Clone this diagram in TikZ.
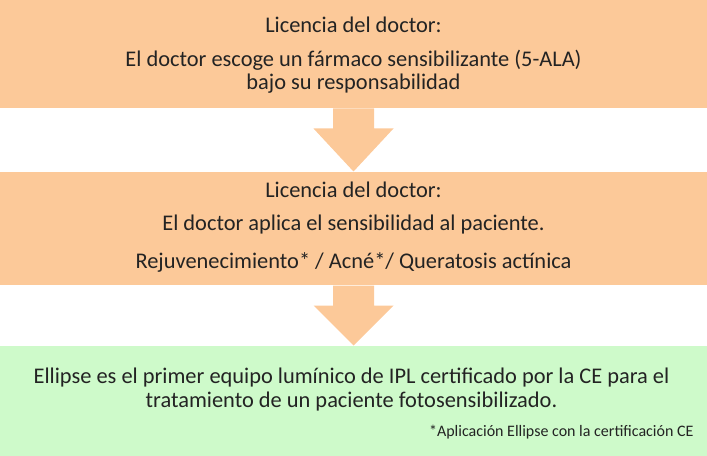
\documentclass[tikz,border=0pt]{standalone}
\usepackage{fontspec}
\setmainfont{Carlito}
\usetikzlibrary{calc}

\definecolor{peach}{RGB}{252,201,153}
\definecolor{mint}{RGB}{206,250,202}
\definecolor{ink}{RGB}{35,35,35}

\tikzset{every picture/.style={line width=0.75pt}}
\tikzset{
  stepbox/.style={fill=#1, draw=none, inner sep=0pt, minimum width=530.25pt},
  boxtext/.style={text=ink, inner sep=0.75pt, align=center, font=\fontsize{16.8}{17.5}\selectfont},
  smalltext/.style={text=ink, inner sep=0.75pt, font=\fontsize{12}{14}\selectfont}
}

\begin{document}
\begin{tikzpicture}[x=0.75pt,y=0.75pt,yscale=-1,xscale=1]
\useasboundingbox (0,0) rectangle (707,456);

% Boxes
\node [stepbox=peach, minimum height=81pt] (box1) at (353.5,54) {};
\node [stepbox=peach, minimum height=84.75pt] (box2) at (353.5,228.5) {};
\node [stepbox=mint, minimum height=82.5pt] (box3) at (353.5,401) {};

% Arrow 1
\fill [peach] ($(box1.south)+(-20.5,0)$) -- ($(box2.north)+(-20.5,-43)$) -- ($(box2.north)+(-40,-43)$) -- (box2.north) -- ($(box2.north)+(40,-43)$) -- ($(box2.north)+(20.5,-43)$) -- ($(box1.south)+(20.5,0)$) -- cycle ;
% Arrow 2
\fill [peach] ($(box2.south)+(-20.5,0)$) -- ($(box3.north)+(-20.5,-40)$) -- ($(box3.north)+(-40,-40)$) -- (box3.north) -- ($(box3.north)+(40,-40)$) -- ($(box3.north)+(20.5,-40)$) -- ($(box2.south)+(20.5,0)$) -- cycle ;

% Text Node
\node [boxtext] (lic1) at (353.5,25) {Licencia del doctor:};
% Text Node
\node [boxtext] (farm) at (353.5,71.5) {El doctor escoge un fármaco sensibilizante (5-ALA)\\bajo su responsabilidad};
% Text Node
\node [boxtext] (lic2) at (353.5,190) {Licencia del doctor:};
% Text Node
\node [boxtext] (aplica) at (353.5,225) {El doctor aplica el sensibilidad al paciente.};
% Text Node
\node [boxtext] (indic) at (353.5,262) {Rejuvenecimiento* / Acné*/ Queratosis actínica};
% Text Node
\node [boxtext] (ellipse) at (351.5,389.5) {Ellipse es el primer equipo lumínico de IPL certificado por la CE para el\\tratamiento de un paciente fotosensibilizado.};
% Text Node
\node [smalltext, anchor=east] (nota) at (695,432) {*Aplicación Ellipse con la certificación CE};

\end{tikzpicture}
\end{document}
